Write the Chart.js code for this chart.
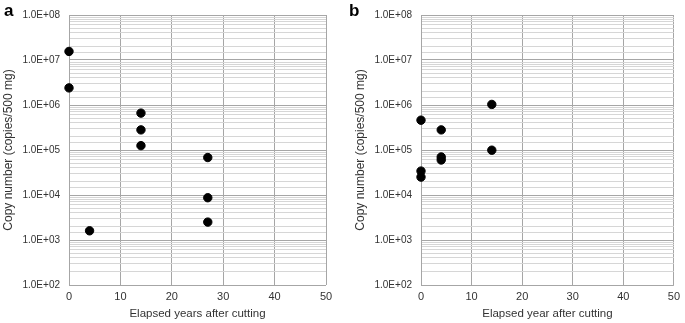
<!DOCTYPE html>
<html>
<head>
<meta charset="utf-8">
<script src="https://cdn.jsdelivr.net/npm/chart.js@4"></script>
<style>
  body { margin: 0; background: #fff; width: 685px; height: 323px; position: relative; overflow: hidden; }
  canvas { position: absolute; top: 0; }
  .tag { position: absolute; font: bold 17px "Liberation Sans", Arial, sans-serif; color: #000; }
</style>
</head>
<body>
<canvas id="chartA" width="340" height="323" style="left:0"></canvas>
<canvas id="chartB" width="333" height="323" style="left:352px"></canvas>
<div class="tag" style="left:4px;top:1px">a</div>
<div class="tag" style="left:349px;top:1px">b</div>
<script>
// panel a
const yearsA = [0, 0, 14, 14, 14, 27, 27, 27, 4];
const copiesA = [1.55e7, 2.4e6, 6.6e5, 2.8e5, 1.25e5, 6.8e4, 8.7e3, 2.5e3, 1.6e3];
// panel b
const yearsB = [0, 0, 0, 4, 4, 4, 14, 14];
const copiesB = [4.6e5, 3.4e4, 2.5e4, 2.8e5, 7.0e4, 6.0e4, 1.03e6, 9.9e4];

const xTicks = [0, 10, 20, 30, 40, 50];
const yMin = 1e2;
const yMax = 1e8;

const FONT = '"Liberation Sans", Arial, sans-serif';
const MAJOR = "#a6a6a6";
const MINOR = "#d6d6d6";

const isDecade = (v) => Math.abs(Math.log10(v) - Math.round(Math.log10(v))) < 1e-9;
const sciLabel = (v) => "1.0E+" + String(Math.round(Math.log10(v))).padStart(2, "0");

function makeChart(id, xs, ys, xTitle, rightPad) {
  const points = xs.map((x, i) => ({ x, y: ys[i] }));
  return new Chart(document.getElementById(id), {
    type: "scatter",
    data: {
      datasets: [{
        data: points,
        backgroundColor: "#000",
        borderColor: "#000",
        borderWidth: 1,
        pointRadius: 4.2,
        pointHoverRadius: 4.2,
        clip: false,
      }],
    },
    options: {
      responsive: false,
      animation: false,
      layout: { padding: { left: 0, top: 10, right: rightPad, bottom: 0 } },
      plugins: { legend: { display: false }, tooltip: { enabled: false } },
      scales: {
        x: {
          type: "linear",
          min: xTicks[0],
          max: xTicks[xTicks.length - 1],
          afterBuildTicks: (s) => { s.ticks = xTicks.map((v) => ({ value: v })); },
          afterFit: (s) => { s.height = 38; },
          grid: { color: MAJOR, drawTicks: false },
          border: { display: false },
          ticks: { color: "#333", padding: 5, font: { family: FONT, size: 11 } },
          title: {
            display: true,
            text: xTitle,
            color: "#333",
            font: { family: FONT, size: 11.5 },
            padding: { top: 0, bottom: 2 },
          },
        },
        y: {
          type: "logarithmic",
          min: yMin,
          max: yMax,
          afterFit: (s) => { s.width = 69; },
          grid: {
            drawTicks: false,
            color: (ctx) => (ctx.tick && isDecade(ctx.tick.value) ? MAJOR : MINOR),
          },
          border: { display: true, color: MAJOR },
          ticks: {
            autoSkip: false,
            color: "#333",
            padding: 9,
            font: { family: FONT, size: 10 },
            callback: (v) => (isDecade(v) ? sciLabel(v) : ""),
          },
          title: {
            display: true,
            text: "Copy number (copies/500 mg)",
            color: "#333",
            font: { family: FONT, size: 12 },
            padding: { top: 1, bottom: 0 },
          },
        },
      },
    },
  });
}

makeChart("chartA", yearsA, copiesA, "Elapsed years after cutting", 14);
makeChart("chartB", yearsB, copiesB, "Elapsed year after cutting", 7);
</script>
</body>
</html>
